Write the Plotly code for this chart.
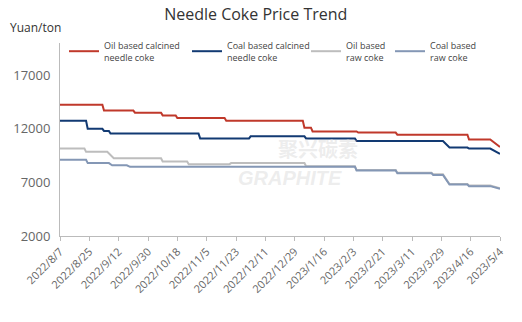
import plotly.graph_objects as go

# ---- data ----
tick_dates = ["2022-08-07", "2022-08-25", "2022-09-12", "2022-09-30", "2022-10-18", "2022-11-05",
              "2022-11-23", "2022-12-11", "2022-12-29", "2023-01-16", "2023-02-03", "2023-02-21",
              "2023-03-11", "2023-03-29", "2023-04-16", "2023-05-04"]
tick_labels = ["2022/8/7", "2022/8/25", "2022/9/12", "2022/9/30", "2022/10/18", "2022/11/5",
               "2022/11/23", "2022/12/11", "2022/12/29", "2023/1/16", "2023/2/3", "2023/2/21",
               "2023/3/11", "2023/3/29", "2023/4/16", "2023/5/4"]
y_ticks = [2000, 7000, 12000, 17000]

oil_calc_dates = ["2022-08-07", "2022-09-02", "2022-09-03", "2022-09-21", "2022-09-22", "2022-10-08",
                  "2022-10-09", "2022-10-17", "2022-10-18", "2022-11-16", "2022-11-17", "2023-01-03",
                  "2023-01-04", "2023-01-08", "2023-01-09", "2023-02-05", "2023-02-06", "2023-03-01",
                  "2023-03-02", "2023-04-14", "2023-04-15", "2023-04-28", "2023-05-04"]
oil_calc_vals = [14250, 14250, 13700, 13700, 13500, 13500,
                 13250, 13250, 13000, 13000, 12750, 12750,
                 12100, 12100, 11750, 11750, 11650, 11650,
                 11450, 11450, 11000, 11000, 10300]

coal_calc_dates = ["2022-08-07", "2022-08-23", "2022-08-24", "2022-09-02", "2022-09-03", "2022-09-06",
                   "2022-09-07", "2022-10-31", "2022-11-01", "2022-12-01", "2022-12-02", "2023-01-04",
                   "2023-01-05", "2023-02-04", "2023-02-05", "2023-03-30", "2023-04-03", "2023-04-14",
                   "2023-04-15", "2023-04-28", "2023-05-04"]
coal_calc_vals = [12750, 12750, 12000, 12000, 11800, 11800,
                  11550, 11550, 11100, 11100, 11300, 11300,
                  11100, 11100, 10850, 10850, 10250, 10250,
                  10150, 10150, 9650]

oil_raw_dates = ["2022-08-07", "2022-08-22", "2022-08-23", "2022-09-05", "2022-09-09", "2022-10-08",
                 "2022-10-09", "2022-10-24", "2022-10-25", "2022-11-19", "2022-11-20", "2023-01-04",
                 "2023-01-05", "2023-02-04", "2023-02-05", "2023-03-01", "2023-03-02", "2023-03-23",
                 "2023-03-24", "2023-03-30", "2023-04-03", "2023-04-14", "2023-04-15", "2023-04-28",
                 "2023-05-04"]
oil_raw_vals = [10150, 10150, 9850, 9850, 9250, 9250,
                8950, 8950, 8700, 8700, 8800, 8800,
                8500, 8500, 8150, 8150, 7900, 7900,
                7750, 7750, 6850, 6850, 6700, 6700,
                6450]

coal_raw_dates = ["2022-08-07", "2022-08-23", "2022-08-24", "2022-09-06", "2022-09-08", "2022-09-17",
                  "2022-09-19", "2022-10-20", "2022-10-21", "2022-11-20", "2022-11-21", "2023-02-04",
                  "2023-02-05", "2023-03-01", "2023-03-02", "2023-03-23", "2023-03-24", "2023-03-30",
                  "2023-04-03", "2023-04-14", "2023-04-15", "2023-04-28", "2023-05-04"]
coal_raw_vals = [9100, 9100, 8800, 8800, 8600, 8600,
                 8450, 8450, 8400, 8400, 8450, 8450,
                 8100, 8100, 7850, 7850, 7700, 7700,
                 6800, 6800, 6650, 6650, 6400]

series = [
    ("Oil based calcined<br>needle coke", oil_calc_dates, oil_calc_vals, "#c0392b", 78),
    ("Coal based calcined<br>needle coke", coal_calc_dates, coal_calc_vals, "#123a73", 74),
    ("Oil based<br>raw coke", oil_raw_dates, oil_raw_vals, "#bdbdbd", 39),
    ("Coal based<br>raw coke", coal_raw_dates, coal_raw_vals, "#8497b5", 45),
]

fig = go.Figure()
for name, d, v, c, lw in series:
    fig.add_trace(go.Scatter(x=d, y=v, mode="lines", name=name,
                             line=dict(color=c, width=2), legendwidth=lw))

fig.update_layout(
    width=522, height=322,
    margin=dict(l=60, r=22, t=43, b=86),
    paper_bgcolor="white", plot_bgcolor="white",
    font=dict(family="Open Sans", color="#333333"),
    title=dict(text="Needle Coke Price Trend", x=0.49, xanchor="center", y=0.955, yanchor="middle",
               font=dict(size=16, color="#333333", family="Open Sans")),
    showlegend=True,
    legend=dict(orientation="h", xref="paper", yref="paper",
                x=(64 - 60) / 440, y=1 + 10 / 193, xanchor="left", yanchor="top",
                font=dict(size=9, color="#444444"), bgcolor="rgba(0,0,0,0)",
                itemwidth=30, tracegroupgap=0),
)

fig.update_xaxes(
    type="date", range=["2022-08-07", "2023-05-04"],
    tickvals=tick_dates, ticktext=tick_labels, tickangle=-45,
    tickfont=dict(size=11, color="#666666"),
    showgrid=False, zeroline=False,
    showline=True, linecolor="#bbbbbb", linewidth=1,
    ticks="outside", tickcolor="#bbbbbb", ticklen=4,
)
fig.update_yaxes(
    range=[2000, 20000], tickvals=y_ticks, ticktext=[str(t) for t in y_ticks],
    tickfont=dict(size=13, color="#666666"), ticklabelstandoff=6,
    showgrid=False, zeroline=False,
    showline=True, linecolor="#bbbbbb", linewidth=1, ticks="",
)

fig.add_annotation(text="Yuan/ton", xref="paper", yref="paper", x=-52 / 440, y=1 + 15 / 193,
                   xanchor="left", yanchor="middle", showarrow=False,
                   font=dict(size=12, color="#333333"))

# faint watermark
fig.add_annotation(text="<b>聚兴碳素</b>", xref="paper", yref="paper", x=(318 - 60) / 440, y=(236 - 148) / 193,
                   xanchor="center", yanchor="middle", showarrow=False,
                   font=dict(size=20, color="rgba(215,215,215,0.45)", family="Noto Sans CJK SC"))
fig.add_annotation(text="<b><i>GRAPHITE</i></b>", xref="paper", yref="paper", x=(290 - 60) / 440, y=(236 - 178) / 193,
                   xanchor="center", yanchor="middle", showarrow=False,
                   font=dict(size=20, color="rgba(215,215,215,0.45)", family="Liberation Sans"))

fig.write_html("out.html")
